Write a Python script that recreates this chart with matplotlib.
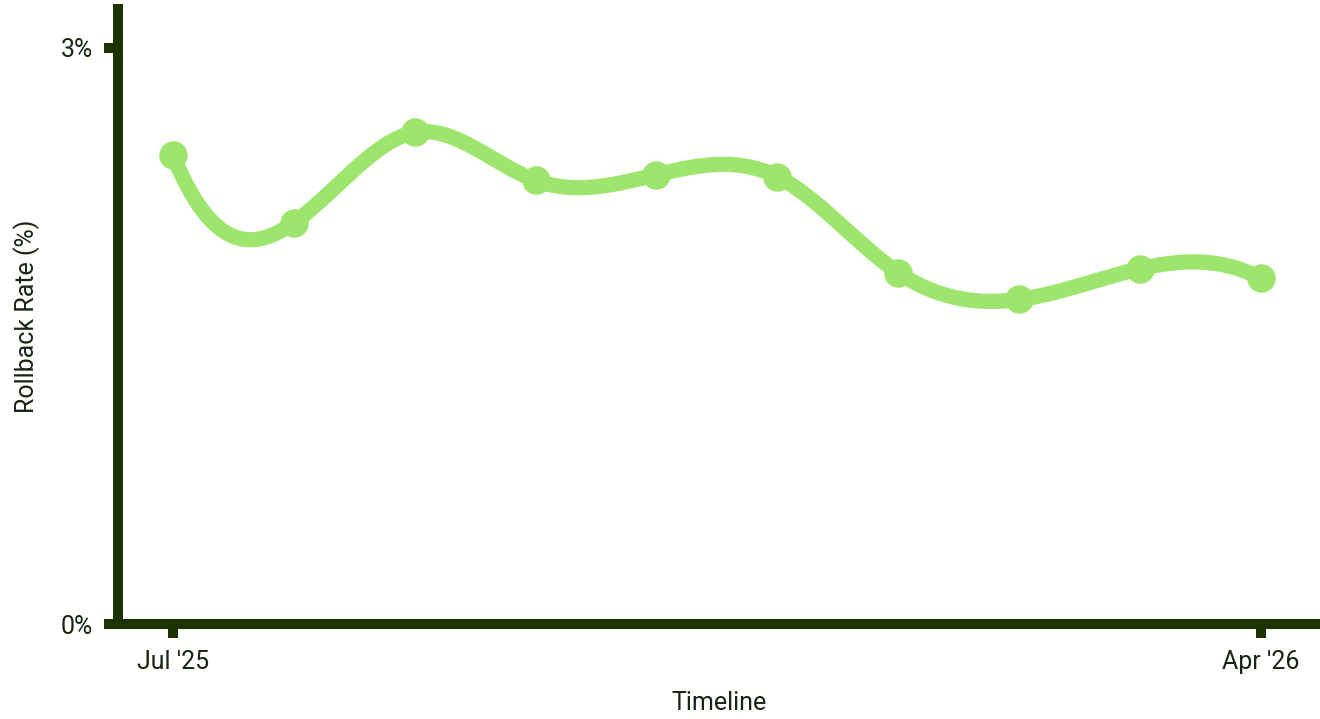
import numpy as np
import matplotlib
matplotlib.use("Agg")
import matplotlib.pyplot as plt

months = ["Jul '25", "Aug '25", "Sep '25", "Oct '25", "Nov '25", "Dec '25",
          "Jan '26", "Feb '26", "Mar '26", "Apr '26"]
rollback_rate = [2.44, 2.09, 2.56, 2.31, 2.34, 2.33, 1.83, 1.69, 1.85, 1.80]
y_ticks = [0, 3]
y_tick_labels = ["0%", "3%"]
x_tick_labels = ["Jul '25", "Apr '26"]

LINE = "#9de56c"
AXIS = "#1b3300"
TEXT = "#1a2412"


def not_a_knot_spline(x, y, n=600):
    x = np.asarray(x, float); y = np.asarray(y, float)
    k = len(x)
    h = np.diff(x)
    A = np.zeros((k, k)); b = np.zeros(k)
    # not-a-knot: third derivative continuous at x[1] and x[k-2]
    A[0, 0] = h[1]; A[0, 1] = -(h[0] + h[1]); A[0, 2] = h[0]
    A[-1, -3] = h[-1]; A[-1, -2] = -(h[-2] + h[-1]); A[-1, -1] = h[-2]
    for i in range(1, k - 1):
        A[i, i - 1] = h[i - 1]
        A[i, i] = 2 * (h[i - 1] + h[i])
        A[i, i + 1] = h[i]
        b[i] = 6 * ((y[i + 1] - y[i]) / h[i] - (y[i] - y[i - 1]) / h[i - 1])
    M = np.linalg.solve(A, b)
    xs = np.linspace(x[0], x[-1], n)
    ys = np.empty_like(xs)
    for j, t in enumerate(xs):
        i = min(np.searchsorted(x, t, side="right") - 1, k - 2)
        a = x[i + 1] - t; c = t - x[i]
        ys[j] = (M[i] * a**3 + M[i + 1] * c**3) / (6 * h[i]) \
            + (y[i] / h[i] - M[i] * h[i] / 6) * a \
            + (y[i + 1] / h[i] - M[i + 1] * h[i] / 6) * c
    return xs, ys


plt.rcParams['font.family'] = ['Roboto', 'DejaVu Sans']

fig = plt.figure(figsize=(13.2, 7.19), dpi=100)
ax = fig.add_axes([118 / 1320, 1 - 624 / 719, (1320 - 118) / 1320, (624 - 8.6) / 719])

x = np.arange(len(months))
ax.set_xlim(-0.455, 9.49)
ax.set_ylim(0, 3.205)

xs, ys = not_a_knot_spline(x, rollback_rate)
ax.plot(xs, ys, color=LINE, lw=11, solid_capstyle="round",
        solid_joinstyle="round", zorder=3)
ax.plot(x, rollback_rate, "o", color=LINE, ms=19.5, zorder=4)

for s in ["top", "right"]:
    ax.spines[s].set_visible(False)
for s in ["left", "bottom"]:
    ax.spines[s].set_color(AXIS)
    ax.spines[s].set_linewidth(7.2)
    ax.spines[s].set_capstyle("projecting")

ax.set_yticks(y_ticks)
ax.set_yticklabels(y_tick_labels)
ax.set_xticks([0, len(months) - 1])
ax.set_xticklabels(x_tick_labels)
ax.tick_params(axis="both", length=10, width=7.2, color=AXIS, labelcolor=TEXT,
               labelsize=18)
ax.tick_params(axis="y", pad=8)
ax.tick_params(axis="x", pad=9)

ax.set_xlabel("Timeline", fontsize=18, color=TEXT, labelpad=12)
ax.set_ylabel("Rollback Rate (%)", fontsize=18, color=TEXT, labelpad=15)

fig.savefig("out.png", dpi=100)
